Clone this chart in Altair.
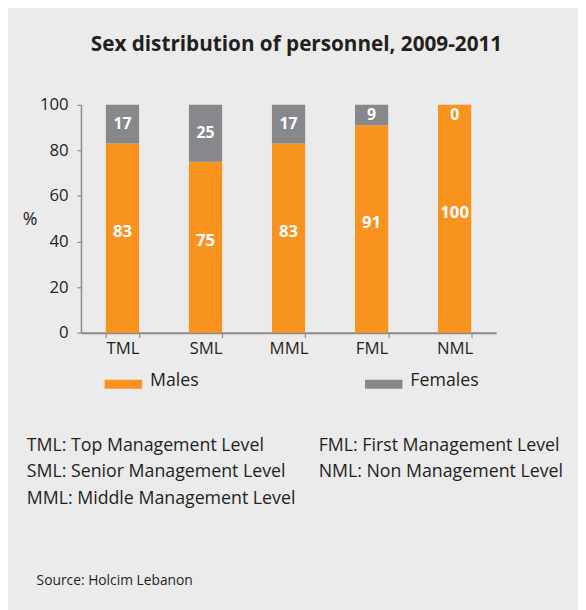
import altair as alt
import pandas as pd

levels = ["TML", "SML", "MML", "FML", "NML"]
males = [83, 75, 83, 91, 100]
females = [17, 25, 17, 9, 0]
series = ["Males", "Females"]
colors = ["#f7931e", "#87888b"]
y_ticks = [0, 20, 40, 60, 80, 100]
title_text = ["Sex distribution of personnel, 2009-2011"]
notes_left = ["TML: Top Management Level", "SML: Senior Management Level", "MML: Middle Management Level"]
notes_right = ["FML: First Management Level", "NML: Non Management Level"]
source_text = ["Source: Holcim Lebanon"]

rows = []
for i, lv in enumerate(levels):
    rows.append({"level": lv, "sex": "Males", "ord": 0, "value": males[i]})
    rows.append({"level": lv, "sex": "Females", "ord": 1, "value": females[i]})
df = pd.DataFrame(rows)

FONT = "Open Sans"
TXT = "#231f20"
AX = "#8a8a8a"

x_enc = alt.X(
    "level:N", sort=levels, title=None,
    scale=alt.Scale(paddingInner=0.6, paddingOuter=0.3),
    axis=alt.Axis(labelAngle=0, labelFontSize=17, labelColor=TXT, labelFont=FONT,
                  labelPadding=3, tickBand="extent", tickSize=5, tickColor=AX,
                  tickWidth=1.2, domainColor=AX, domainWidth=2),
)

y_axis = alt.Axis(values=y_ticks, title="%", titleAngle=0, titleX=-52, titleY=116,
                  titleAlign="center", titleBaseline="middle", titleFontSize=18,
                  titleFontWeight="normal", titleFont=FONT, titleColor=TXT,
                  labelFontSize=17, labelColor=TXT, labelFont=FONT, labelPadding=9,
                  tickSize=4, tickColor=AX, tickWidth=1.2, domainColor=AX,
                  domainWidth=1.5, grid=False)

base = alt.Chart(df)

bars = base.mark_bar().encode(
    x=x_enc,
    y=alt.Y("value:Q", stack="zero", scale=alt.Scale(domain=[0, 100]), axis=y_axis),
    color=alt.Color(
        "sex:N", scale=alt.Scale(domain=series, range=colors),
        legend=alt.Legend(title=None, orient="none", legendX=24, legendY=261,
                          direction="horizontal", symbolType="M-1,-0.06H1V0.42H-1Z",
                          symbolSize=1444, symbolStrokeWidth=0, symbolOpacity=1,
                          labelFontSize=18, labelFont=FONT, labelColor=TXT,
                          labelOffset=8, columnPadding=168, padding=0),
    ),
    order=alt.Order("ord:Q", sort="ascending"),
)

stacked = base.transform_stack(
    stack="value", groupby=["level"], as_=["v0", "v1"],
    sort=[alt.SortField("ord", order="ascending")],
).transform_calculate(
    mid="datum.sex == 'Females' ? min((datum.v0 + datum.v1) / 2, 95.5) : (datum.v0 + datum.v1) / 2"
)

lab_m = stacked.transform_filter("datum.sex == 'Males'").mark_text(
    color="white", fontWeight="bold", fontSize=17, font=FONT, dy=-6
).encode(x=x_enc, y=alt.Y("mid:Q"), text="value:Q")

lab_f = stacked.transform_filter("datum.sex == 'Females'").mark_text(
    color="white", fontWeight="bold", fontSize=16, font=FONT
).encode(x=x_enc, y=alt.Y("mid:Q"), text="value:Q")

title_layer = alt.Chart(pd.DataFrame({"t": title_text})).mark_text(
    fontSize=21, fontWeight="bold", font=FONT, color=TXT, align="center", baseline="alphabetic"
).encode(text="t:N", x=alt.value(218.5), y=alt.value(-55))

notes_l = alt.Chart(pd.DataFrame({"t": [0]})).mark_text(
    fontSize=18, font=FONT, color=TXT, align="left", baseline="alphabetic", lineHeight=26.7
).encode(text=alt.value(notes_left), x=alt.value(-55), y=alt.value(351))

notes_r = alt.Chart(pd.DataFrame({"t": [0]})).mark_text(
    fontSize=18, font=FONT, color=TXT, align="left", baseline="alphabetic", lineHeight=26.7
).encode(text=alt.value(notes_right), x=alt.value(241), y=alt.value(351))

source = alt.Chart(pd.DataFrame({"t": source_text})).mark_text(
    fontSize=14, font=FONT, color=TXT, align="left", baseline="alphabetic"
).encode(text="t:N", x=alt.value(-45), y=alt.value(487))

chart = alt.layer(bars, lab_m, lab_f, title_layer, notes_l, notes_r, source).properties(
    width=421, height=231,
    autosize=alt.AutoSizeParams(type="none"),
    padding={"left": 74, "top": 94, "right": 83, "bottom": 277},
).configure(background="#ebebeb", font=FONT).configure_view(strokeWidth=0)

chart.save("out.html", embed_options={"renderer": "svg", "actions": False})
